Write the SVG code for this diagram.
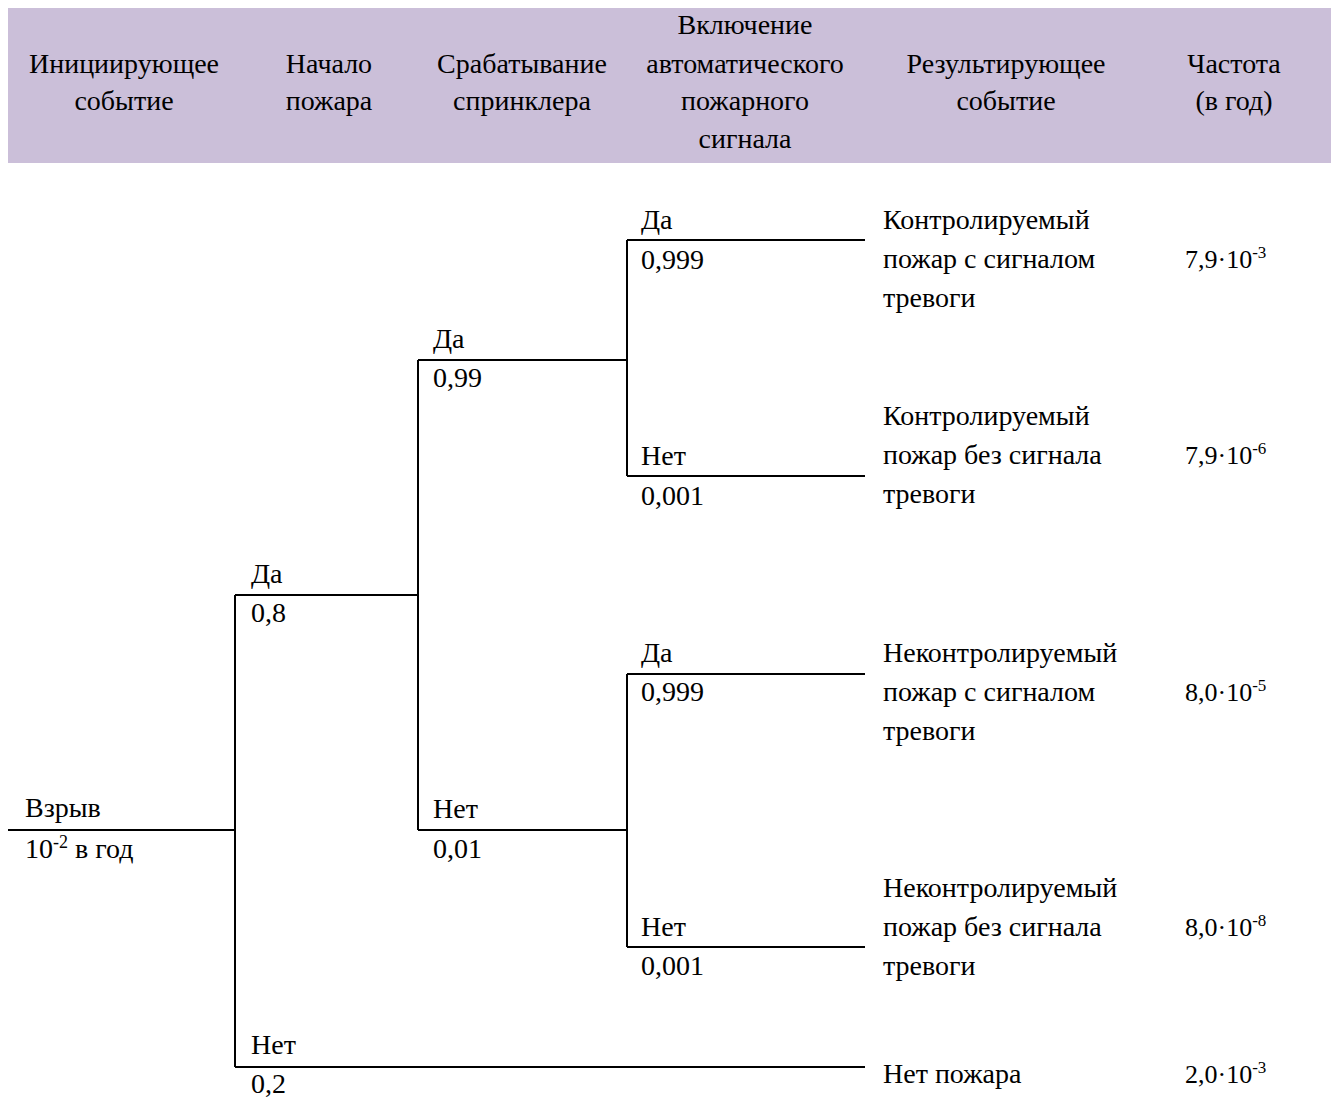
<svg xmlns="http://www.w3.org/2000/svg" width="1331" height="1097" viewBox="0 0 1331 1097">
<style>
text{font-family:"Liberation Serif","Times New Roman",serif;font-size:28px;fill:#000}
.c{text-anchor:middle}
.sup{font-size:18px}
.f{font-size:26px}
.f .sup{font-size:17px}
.ln{stroke:#000;stroke-width:2;fill:none}
</style>
<rect x="8" y="8" width="1323" height="155" fill="#CBBFD9"/>
<g id="header">
<text class="c" x="124" y="73">Инициирующее</text>
<text class="c" x="124" y="110">событие</text>
<text class="c" x="329" y="73">Начало</text>
<text class="c" x="329" y="110">пожара</text>
<text class="c" x="522" y="73">Срабатывание</text>
<text class="c" x="522" y="110">спринклера</text>
<text class="c" x="745" y="34">Включение</text>
<text class="c" x="745" y="73">автоматического</text>
<text class="c" x="745" y="110">пожарного</text>
<text class="c" x="745" y="148">сигнала</text>
<text class="c" x="1006" y="73">Результирующее</text>
<text class="c" x="1006" y="110">событие</text>
<text class="c" x="1234" y="73">Частота</text>
<text class="c" x="1234" y="110">(в год)</text>
</g>
<g id="connectors" class="ln">
<path d="M8 830H235"/>
<path d="M235 595V1067"/>
<path d="M235 595H418"/>
<path d="M235 1067H865"/>
<path d="M418 360V830"/>
<path d="M418 360H627"/>
<path d="M418 830H627"/>
<path d="M627 240V476"/>
<path d="M627 674V947"/>
<path d="M627 240H865"/>
<path d="M627 476H865"/>
<path d="M627 674H865"/>
<path d="M627 947H865"/>
</g>
<g id="n-init">
<text x="25" y="817">Взрыв</text>
<text x="25" y="858">10<tspan class="sup" dy="-10">-2</tspan><tspan dy="10"> в год</tspan></text>
</g>
<g id="n-fire-yes"><text x="251" y="583">Да</text><text x="251" y="622">0,8</text></g>
<g id="n-fire-no"><text x="251" y="1054">Нет</text><text x="251" y="1093">0,2</text></g>
<g id="n-spr-yes"><text x="433" y="348">Да</text><text x="433" y="387">0,99</text></g>
<g id="n-spr-no"><text x="433" y="818">Нет</text><text x="433" y="858">0,01</text></g>
<g id="n-al1-yes"><text x="641" y="229">Да</text><text x="641" y="269">0,999</text></g>
<g id="n-al1-no"><text x="641" y="465">Нет</text><text x="641" y="505">0,001</text></g>
<g id="n-al2-yes"><text x="641" y="662">Да</text><text x="641" y="701">0,999</text></g>
<g id="n-al2-no"><text x="641" y="936">Нет</text><text x="641" y="975">0,001</text></g>
<g id="r1"><text x="883" y="229">Контролируемый</text><text x="883" y="268">пожар с сигналом</text><text x="883" y="307">тревоги</text>
<text class="f" x="1185" y="268">7,9·10<tspan class="sup" dy="-10">-3</tspan></text></g>
<g id="r2"><text x="883" y="425">Контролируемый</text><text x="883" y="464">пожар без сигнала</text><text x="883" y="503">тревоги</text>
<text class="f" x="1185" y="464">7,9·10<tspan class="sup" dy="-10">-6</tspan></text></g>
<g id="r3"><text x="883" y="662">Неконтролируемый</text><text x="883" y="701">пожар с сигналом</text><text x="883" y="740">тревоги</text>
<text class="f" x="1185" y="701">8,0·10<tspan class="sup" dy="-10">-5</tspan></text></g>
<g id="r4"><text x="883" y="897">Неконтролируемый</text><text x="883" y="936">пожар без сигнала</text><text x="883" y="975">тревоги</text>
<text class="f" x="1185" y="936">8,0·10<tspan class="sup" dy="-10">-8</tspan></text></g>
<g id="r5"><text x="883" y="1083">Нет пожара</text>
<text class="f" x="1185" y="1083">2,0·10<tspan class="sup" dy="-10">-3</tspan></text></g>
</svg>
